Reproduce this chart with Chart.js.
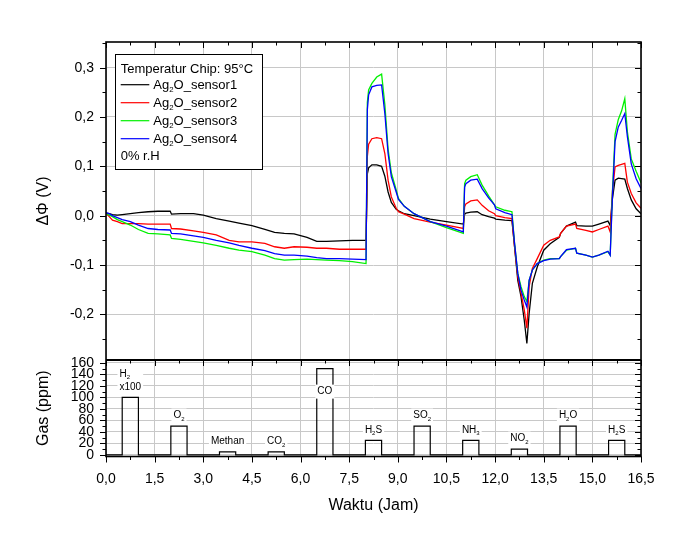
<!DOCTYPE html>
<html><head><meta charset="utf-8">
<script src="https://cdn.jsdelivr.net/npm/chart.js@4"></script>
<style>html,body{margin:0;padding:0;background:#fff}canvas{display:block}</style>
</head><body>
<canvas id="c" width="689" height="539"></canvas>
<script>
const FONT = '"Liberation Sans", Arial, Helvetica, sans-serif';

// ---- data (hours / volts / ppm) ----
const timeH = [0,0.1,0.2,0.35,0.5,0.75,1.0,1.3,1.6,1.98,
  2.02,2.3,2.7,3.0,3.4,3.8,4.1,4.5,4.9,5.2,
  5.5,5.8,6.2,6.5,6.8,7.2,7.6,8.02,8.06,8.1,
  8.2,8.35,8.5,8.6,8.7,8.8,8.95,9.02,9.2,9.5,
  10.0,10.5,11.02,11.06,11.1,11.25,11.45,11.6,11.8,11.98,
  12.02,12.3,12.52,12.6,12.7,12.8,12.9,12.98,13.05,13.15,
  13.3,13.5,13.7,13.98,14.02,14.2,14.48,14.52,14.8,15.0,
  15.2,15.48,15.55,15.62,15.7,15.8,15.9,16.0,16.08,16.2,
  16.35,16.5];

const sensor1 = [0.005,0.004,0.002,0.001,0.002,0.004,0.006,0.008,0.009,0.009,
  0.003,0.004,0.004,0.001,-0.006,-0.011,-0.015,-0.020,-0.028,-0.034,
  -0.036,-0.037,-0.044,-0.052,-0.052,-0.051,-0.050,-0.050,0.085,0.097,
  0.103,0.103,0.100,0.080,0.048,0.027,0.013,0.010,0.004,0.000,
  -0.007,-0.012,-0.017,0.003,0.005,0.007,0.008,0.002,-0.002,-0.005,
  -0.007,-0.009,-0.010,-0.063,-0.131,-0.164,-0.212,-0.259,-0.198,-0.137,
  -0.104,-0.070,-0.057,-0.044,-0.036,-0.021,-0.013,-0.020,-0.021,-0.021,
  -0.017,-0.011,-0.020,0.035,0.072,0.076,0.075,0.074,0.055,0.032,
  0.014,0.004];

const sensor2 = [0.005,-0.002,-0.009,-0.012,-0.016,-0.016,-0.016,-0.017,-0.017,-0.017,
  -0.026,-0.027,-0.031,-0.034,-0.039,-0.050,-0.053,-0.053,-0.056,-0.063,
  -0.066,-0.063,-0.064,-0.066,-0.066,-0.068,-0.068,-0.068,0.120,0.145,
  0.156,0.158,0.156,0.126,0.072,0.038,0.015,0.008,0.003,-0.006,
  -0.013,-0.019,-0.026,0.018,0.024,0.030,0.032,0.021,0.010,0.004,
  0.000,-0.004,-0.006,-0.063,-0.124,-0.157,-0.191,-0.228,-0.144,-0.107,
  -0.087,-0.060,-0.050,-0.043,-0.036,-0.021,-0.017,-0.026,-0.030,-0.033,
  -0.028,-0.021,-0.033,0.050,0.099,0.102,0.104,0.106,0.068,0.045,
  0.026,0.015];

const sensor3 = [0.005,0.001,-0.002,-0.008,-0.012,-0.019,-0.028,-0.036,-0.037,-0.039,
  -0.046,-0.048,-0.052,-0.055,-0.060,-0.066,-0.070,-0.073,-0.080,-0.087,
  -0.090,-0.089,-0.088,-0.089,-0.090,-0.091,-0.093,-0.097,0.230,0.255,
  0.268,0.281,0.287,0.225,0.135,0.087,0.052,0.035,0.019,0.004,
  -0.012,-0.024,-0.036,0.065,0.072,0.079,0.083,0.062,0.040,0.022,
  0.018,0.011,0.008,-0.056,-0.117,-0.144,-0.164,-0.174,-0.131,-0.110,
  -0.097,-0.090,-0.087,-0.087,-0.083,-0.070,-0.066,-0.076,-0.080,-0.084,
  -0.080,-0.073,-0.080,0.050,0.165,0.195,0.212,0.237,0.170,0.115,
  0.090,0.067];

const sensor4 = [0.006,0.004,0.000,-0.004,-0.008,-0.012,-0.019,-0.026,-0.028,-0.029,
  -0.036,-0.037,-0.041,-0.044,-0.050,-0.055,-0.060,-0.066,-0.071,-0.077,
  -0.080,-0.080,-0.082,-0.085,-0.087,-0.087,-0.088,-0.089,0.215,0.245,
  0.261,0.264,0.265,0.207,0.126,0.079,0.048,0.033,0.019,0.004,
  -0.012,-0.021,-0.033,0.058,0.065,0.072,0.074,0.055,0.036,0.022,
  0.014,0.006,0.002,-0.056,-0.117,-0.151,-0.171,-0.185,-0.131,-0.110,
  -0.097,-0.091,-0.088,-0.087,-0.083,-0.069,-0.066,-0.076,-0.080,-0.084,
  -0.080,-0.072,-0.080,0.040,0.150,0.180,0.193,0.207,0.160,0.105,
  0.075,0.055];

// "~" marks the next character as a subscript
const sensorNames = ['Ag~2O_sensor1','Ag~2O_sensor2','Ag~2O_sensor3','Ag~2O_sensor4'];

const gasNames = ['H~2\nx100','O~2','Methan','CO~2','CO','H~2S','SO~2','NH~3','NO~2','H~2O','H~2S'];
const gasStart = [0.5,2.0,3.5,5.0,6.5,8.0,9.5,11.0,12.5,14.0,15.5];
const gasEnd   = [1.0,2.5,4.0,5.5,7.0,8.5,10.0,11.5,13.0,14.5,16.0];
const gasPpm   = [100,50,5,5,150,25,50,25,10,50,25];

const xTicks = [0,1.5,3,4.5,6,7.5,9,10.5,12,13.5,15,16.5];
const dPhiTicks = [-0.2,-0.1,0,0.1,0.2,0.3];
const gasTicks = [0,20,40,60,80,100,120,140,160];

const legendTitle = 'Temperatur Chip: 95°C';
const legendNote = '0% r.H';

// ---- helpers ----
const colors = ['#000000','#ff0000','#00f000','#0000ff'];
const series = [sensor1,sensor2,sensor3,sensor4];
const comma1 = v => Number(v).toFixed(1).replace('.', ',');

function parseRich(t){
  const segs=[]; let buf='';
  for(let i=0;i<t.length;i++){
    if(t[i]==='~' && i+1<t.length){ if(buf){segs.push({t:buf,sub:false});buf='';} segs.push({t:t[i+1],sub:true}); i++; }
    else buf+=t[i];
  }
  if(buf) segs.push({t:buf,sub:false});
  return segs;
}
function richWidth(ctx,t,size){
  let w=0; for(const s of parseRich(t)){ ctx.font=(s.sub?size*0.6:size)+'px '+FONT; w+=ctx.measureText(s.t).width; } return w;
}
function drawRich(ctx,t,x,y,size){
  ctx.textBaseline='middle'; ctx.textAlign='left';
  let cx=x;
  for(const s of parseRich(t)){
    const fs=s.sub?size*0.6:size; ctx.font=fs+'px '+FONT;
    ctx.fillText(s.t,cx,s.sub?y+size*0.38:y);
    cx+=ctx.measureText(s.t).width;
  }
}

const gasPoints=[{x:0,y:0}];
gasStart.forEach((s,i)=>{ gasPoints.push({x:s,y:0},{x:s,y:gasPpm[i]},{x:gasEnd[i],y:gasPpm[i]},{x:gasEnd[i],y:0}); });
gasPoints.push({x:16.5,y:0});

const datasets = series.map((arr,i)=>({
  label: sensorNames[i],
  data: arr.map((v,k)=>({x:timeH[k],y:v})),
  yAxisID:'y', borderColor:colors[i], borderWidth:1.3, pointRadius:0, tension:0, fill:false, order:4-i
}));
datasets.push({label:'Gas', data:gasPoints, yAxisID:'y2', borderColor:'#000', borderWidth:1.2, pointRadius:0, tension:0, fill:false, order:0});

const framePlugin = {
  id:'frame',
  afterDatasetsDraw(chart){
    const {ctx, chartArea:a, scales:{x, y, y2}} = chart;
    ctx.save();
    // gas labels
    const fs=10;
    gasNames.forEach((name,i)=>{
      const cx = x.getPixelForValue((gasStart[i]+gasEnd[i])/2);
      const topPx = y2.getPixelForValue(gasPpm[i]);
      const lines = name.split('\n');
      const widths = lines.map(l=>richWidth(ctx,l,fs));
      const bw = Math.max(...widths);
      const lh = 13;
      let lastY = topPx - 10.5;
      if (lastY - (lines.length-1)*lh - 6 < y2.top) lastY = topPx + 23;
      const firstY = lastY - (lines.length-1)*lh;
      ctx.fillStyle='#fff';
      ctx.fillRect(cx-bw/2-2, firstY-7, bw+4, (lines.length-1)*lh+14);
      ctx.fillStyle='#000';
      lines.forEach((l,k)=>{
        const lx = lines.length>1 ? cx-bw/2 : cx-widths[k]/2;
        drawRich(ctx,l,lx,firstY+k*lh,fs);
      });
    });
    // legend
    const lx=a.left+9.5, ly=a.top+12.5;
    ctx.fillStyle='#fff'; ctx.fillRect(lx,ly,147,115);
    ctx.strokeStyle='#000'; ctx.lineWidth=1; ctx.strokeRect(lx,ly,147,115);
    ctx.fillStyle='#000';
    ctx.font='13px '+FONT; ctx.textBaseline='middle'; ctx.textAlign='left';
    ctx.fillText(legendTitle, a.left+14.7, a.top+27.5);
    sensorNames.forEach((n,i)=>{
      const ry=a.top+42.7+18*i;
      ctx.strokeStyle=colors[i]; ctx.lineWidth=1.2;
      ctx.beginPath(); ctx.moveTo(a.left+14.7,ry); ctx.lineTo(a.left+43.3,ry); ctx.stroke();
      ctx.fillStyle='#000';
      drawRich(ctx,n,a.left+47.3,ry+0.5,13);
    });
    ctx.font='13px '+FONT; ctx.textBaseline='middle'; ctx.textAlign='left';
    ctx.fillText(legendNote, a.left+14.7, a.top+114.7);
    ctx.restore();
  },
  afterDraw(chart){
    const {ctx, chartArea:a, scales:{x, y, y2}} = chart;
    const sep = y.bottom;
    ctx.save();
    ctx.strokeStyle='#000'; ctx.lineWidth=1;
    const line=(x1,y1,x2,yb)=>{ctx.beginPath();ctx.moveTo(x1,y1);ctx.lineTo(x2,yb);ctx.stroke();};
    const px=v=>Math.round(x.getPixelForValue(v))+0.5;
    xTicks.forEach((v,i)=>{
      const p=px(v);
      line(p,a.top,p,a.top+6); line(p,sep,p,sep+6); line(p,a.bottom,p,a.bottom+6);
      if(i<xTicks.length-1){
        const m=px((v+xTicks[i+1])/2);
        line(m,a.top,m,a.top+3.5); line(m,sep,m,sep+3.5); line(m,a.bottom,m,a.bottom+3.5);
      }
    });
    const yTicksDraw=(scale,ticks)=>{
      const step=ticks[1]-ticks[0];
      const mins=[];
      for(let i=-1;i<ticks.length;i++){ const m=ticks[0]+(i+0.5)*step; if(m>scale.min && m<scale.max) mins.push(m); }
      ticks.forEach(v=>{ const p=Math.round(scale.getPixelForValue(v))+0.5; line(a.left-6,p,a.left,p); line(a.right-6,p,a.right,p); });
      mins.forEach(v=>{ const p=Math.round(scale.getPixelForValue(v))+0.5; line(a.left-3.5,p,a.left,p); line(a.right-3.5,p,a.right,p); });
    };
    yTicksDraw(y,dPhiTicks);
    yTicksDraw(y2,gasTicks);
    ctx.lineWidth=1.6;
    ctx.strokeRect(a.left,a.top,a.right-a.left,a.bottom-a.top);
    ctx.lineWidth=1.8;
    line(a.left,sep,a.right,sep);
    ctx.restore();
  }
};

const gridColor='#c8c8c8';
new Chart(document.getElementById('c'),{
  type:'line',
  data:{datasets},
  options:{
    responsive:false, animation:false, devicePixelRatio:1,
    layout:{padding:{top:42,right:48,left:0,bottom:0}},
    plugins:{legend:{display:false}, tooltip:{enabled:false}},
    scales:{
      x:{type:'linear', position:'bottom', min:0, max:16.5,
        afterBuildTicks:s=>{s.ticks=xTicks.map(value=>({value}));},
        afterFit:s=>{s.height=82.5;},
        ticks:{callback:v=>comma1(v), color:'#000', font:{size:14,family:FONT}, padding:14, maxRotation:0, autoSkip:false},
        grid:{color:gridColor, lineWidth:1, drawTicks:false}, border:{display:false},
        title:{display:true, text:'Waktu (Jam)', color:'#000', font:{size:16,family:FONT}, padding:{top:0,bottom:24}}
      },
      y:{type:'linear', position:'left', stack:'panels', stackWeight:318, weight:1, min:-0.2925, max:0.352,
        afterBuildTicks:s=>{s.ticks=dPhiTicks.map(value=>({value}));},
        afterFit:s=>{s.width=106;},
        ticks:{callback:v=>comma1(v), color:'#000', font:{size:14,family:FONT}, padding:12, autoSkip:false},
        grid:{color:gridColor, lineWidth:1, drawTicks:false}, border:{display:false},
        title:{display:true, text:'ΔΦ (V)', color:'#000', font:{size:16,family:FONT}, padding:{top:34,bottom:0}}
      },
      y2:{type:'linear', position:'left', stack:'panels', stackWeight:96.5, weight:0, min:-3, max:165,
        afterBuildTicks:s=>{s.ticks=gasTicks.map(value=>({value}));},
        afterFit:s=>{s.width=106;},
        ticks:{callback:v=>String(v), color:'#000', font:{size:14,family:FONT}, padding:12, autoSkip:false},
        grid:{color:gridColor, lineWidth:1, drawTicks:false}, border:{display:false},
        title:{display:true, text:'Gas (ppm)', color:'#000', font:{size:16,family:FONT}, padding:{top:34,bottom:0}}
      }
    }
  },
  plugins:[framePlugin]
});
</script>
</body></html>
